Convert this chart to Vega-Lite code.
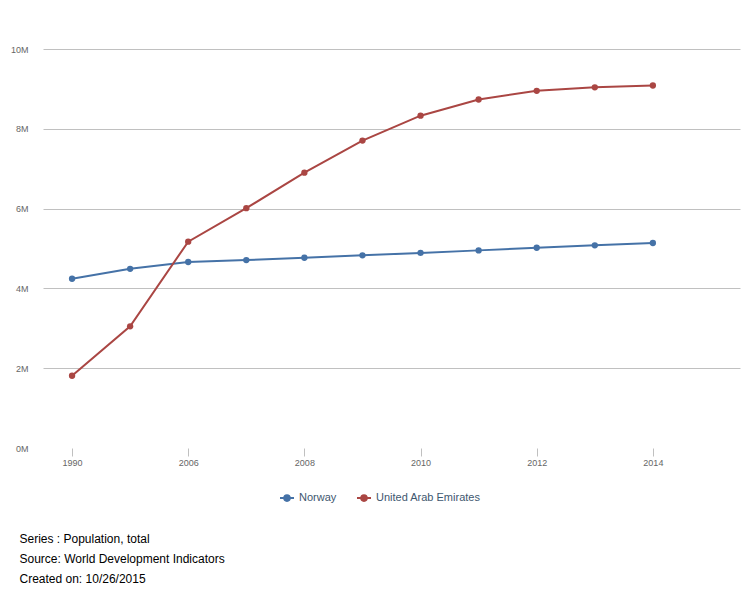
{
  "$schema": "https://vega.github.io/schema/vega-lite/v6.json",
  "autosize": "none",
  "width": 697,
  "height": 399,
  "padding": {"left": 43, "top": 49, "right": 10, "bottom": 152},
  "background": "white",
  "config": {
    "font": "Liberation Sans",
    "view": {"stroke": null}
  },
  "title": {
    "text": ["Series : Population, total", "Source: World Development Indicators", "Created on: 10/26/2015"],
    "orient": "bottom",
    "anchor": "start",
    "dx": 9,
    "offset": 29,
    "fontSize": 12,
    "fontWeight": "normal",
    "color": "#000000",
    "lineHeight": 20,
    "font": "Liberation Sans"
  },
  "data": {
    "values": [
      {"year": "1990", "country": "Norway", "population": 4241000},
      {"year": "2000", "country": "Norway", "population": 4491000},
      {"year": "2006", "country": "Norway", "population": 4661000},
      {"year": "2007", "country": "Norway", "population": 4709000},
      {"year": "2008", "country": "Norway", "population": 4768000},
      {"year": "2009", "country": "Norway", "population": 4829000},
      {"year": "2010", "country": "Norway", "population": 4889000},
      {"year": "2011", "country": "Norway", "population": 4953000},
      {"year": "2012", "country": "Norway", "population": 5019000},
      {"year": "2013", "country": "Norway", "population": 5080000},
      {"year": "2014", "country": "Norway", "population": 5137000},
      {"year": "1990", "country": "United Arab Emirates", "population": 1810000},
      {"year": "2000", "country": "United Arab Emirates", "population": 3050000},
      {"year": "2006", "country": "United Arab Emirates", "population": 5172000},
      {"year": "2007", "country": "United Arab Emirates", "population": 6010000},
      {"year": "2008", "country": "United Arab Emirates", "population": 6900000},
      {"year": "2009", "country": "United Arab Emirates", "population": 7705000},
      {"year": "2010", "country": "United Arab Emirates", "population": 8329000},
      {"year": "2011", "country": "United Arab Emirates", "population": 8735000},
      {"year": "2012", "country": "United Arab Emirates", "population": 8952000},
      {"year": "2013", "country": "United Arab Emirates", "population": 9040000},
      {"year": "2014", "country": "United Arab Emirates", "population": 9086000}
    ]
  },
  "encoding": {
    "x": {
      "field": "year",
      "type": "ordinal",
      "scale": {
        "type": "point",
        "padding": 0.5,
        "domain": ["1990", "2000", "2006", "2007", "2008", "2009", "2010", "2011", "2012", "2013", "2014", "2015"]
      },
      "axis": {
        "title": null,
        "values": ["1990", "2006", "2008", "2010", "2012", "2014"],
        "labelAngle": 0,
        "labelFontSize": 9,
        "labelColor": "#666666",
        "labelPadding": 2,
        "tickSize": 8,
        "tickColor": "#c0c0c0",
        "domain": false,
        "grid": false
      }
    },
    "y": {
      "field": "population",
      "type": "quantitative",
      "scale": {"domain": [0, 10000000], "nice": false},
      "axis": {
        "title": null,
        "values": [0, 2000000, 4000000, 6000000, 8000000, 10000000],
        "labelExpr": "(datum.value / 1000000) + 'M'",
        "labelFontSize": 9,
        "labelColor": "#666666",
        "labelPadding": 15,
        "ticks": false,
        "domain": false,
        "grid": true,
        "gridColor": {"condition": {"test": "datum.value === 0", "value": "transparent"}, "value": "#c0c0c0"},
        "gridWidth": 1
      }
    },
    "color": {
      "field": "country",
      "type": "nominal",
      "scale": {"domain": ["Norway", "United Arab Emirates"], "range": ["#4572A7", "#AA4643"]},
      "legend": {
        "title": null,
        "orient": "none",
        "direction": "horizontal",
        "legendX": 236,
        "legendY": 441,
        "symbolType": "M-1,0L1,0M-0.4,0A0.4,0.4 0 1,0 0.4,0A0.4,0.4 0 1,0 -0.4,0",
        "symbolSize": 196,
        "symbolStrokeWidth": 2,
        "labelFontSize": 11,
        "labelColor": "#3E576F",
        "labelOffset": 4,
        "columnPadding": 16,
        "encode": {
          "symbols": {"update": {"fill": {"signal": "scale('color', datum.value)"}}}
        }
      }
    }
  },
  "layer": [
    {"mark": {"type": "line", "strokeWidth": 2}},
    {"mark": {"type": "circle", "size": 40, "opacity": 1}}
  ]
}
